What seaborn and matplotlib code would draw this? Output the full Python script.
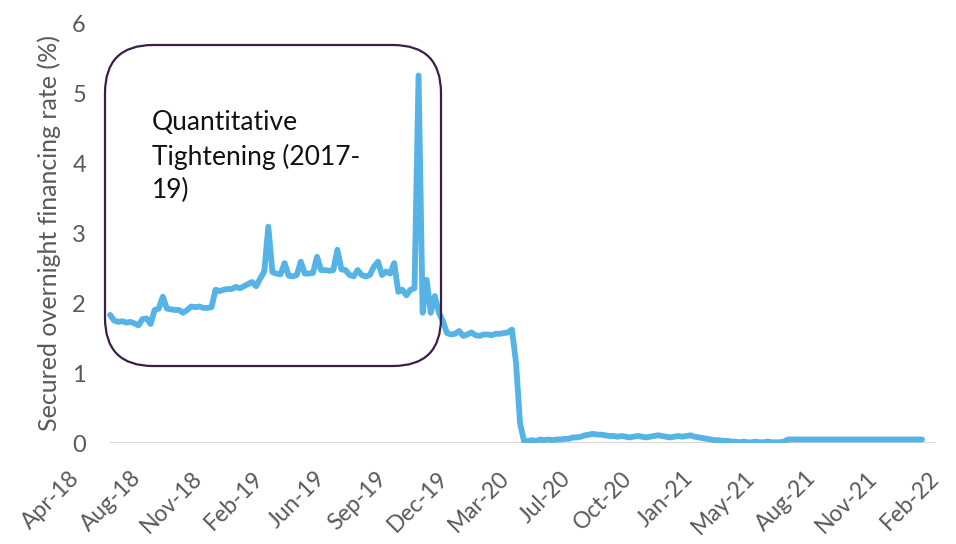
import matplotlib
matplotlib.use('Agg')
import matplotlib.pyplot as plt
import seaborn as sns
import pandas as pd
from matplotlib.patches import FancyBboxPatch
from matplotlib.transforms import IdentityTransform

# weekly SOFR readings (%), first week ending 6 Apr 2018
sofr = [
    1.83, 1.75, 1.73, 1.74, 1.72, 1.73, 1.71, 1.68, 1.77, 1.78,
    1.70, 1.90, 1.92, 2.09, 1.92, 1.91, 1.90, 1.90, 1.86, 1.90,
    1.95, 1.94, 1.95, 1.93, 1.93, 1.94, 2.19, 2.17, 2.19, 2.20,
    2.20, 2.23, 2.21, 2.24, 2.27, 2.30, 2.24, 2.35, 2.45, 3.09,
    2.44, 2.42, 2.41, 2.57, 2.39, 2.38, 2.40, 2.59, 2.42, 2.42,
    2.43, 2.66, 2.47, 2.47, 2.46, 2.47, 2.76, 2.48, 2.47, 2.40,
    2.38, 2.47, 2.40, 2.38, 2.40, 2.52, 2.59, 2.40, 2.45, 2.42,
    2.57, 2.16, 2.19, 2.11, 2.19, 2.21, 5.25, 1.86, 2.33, 1.86,
    2.10, 1.86, 1.74, 1.57, 1.55, 1.56, 1.60, 1.53, 1.55, 1.58,
    1.54, 1.53, 1.55, 1.55, 1.54, 1.56, 1.56, 1.57, 1.58, 1.62,
    1.15, 0.28, 0.02, 0.03, 0.04, 0.03, 0.05, 0.04, 0.05, 0.04,
    0.05, 0.05, 0.06, 0.06, 0.08, 0.08, 0.09, 0.11, 0.12, 0.13,
    0.12, 0.12, 0.11, 0.10, 0.10, 0.09, 0.10, 0.09, 0.08, 0.09,
    0.10, 0.09, 0.08, 0.09, 0.10, 0.11, 0.10, 0.09, 0.08, 0.09,
    0.10, 0.09, 0.10, 0.11, 0.09, 0.08, 0.07, 0.06, 0.05, 0.04,
    0.04, 0.03, 0.03, 0.02, 0.02, 0.01, 0.02, 0.01, 0.01, 0.02,
    0.01, 0.01, 0.02, 0.01, 0.01, 0.01, 0.02, 0.05, 0.05, 0.05,
    0.05, 0.05, 0.05, 0.05, 0.05, 0.05, 0.05, 0.05, 0.05, 0.05,
    0.05, 0.05, 0.05, 0.05, 0.05, 0.05, 0.05, 0.05, 0.05, 0.05,
    0.05, 0.05, 0.05, 0.05, 0.05, 0.05, 0.05, 0.05, 0.05, 0.05,
    0.05,
]
first_week = '2018-04-06'

x_labels = ['Apr-18', 'Aug-18', 'Nov-18', 'Feb-19', 'Jun-19', 'Sep-19',
            'Dec-19', 'Mar-20', 'Jul-20', 'Oct-20', 'Jan-21', 'May-21',
            'Aug-21', 'Nov-21', 'Feb-22']
y_ticks = [0, 1, 2, 3, 4, 5, 6]
note = 'Quantitative\nTightening (2017-\n19)'

dates = pd.date_range(first_week, periods=len(sofr), freq='7D')
df = pd.DataFrame({'Date': dates, 'SOFR': sofr})

sns.set_theme(style='white')
plt.rcParams['font.family'] = ['Lato', 'DejaVu Sans']

W, H = 956, 544
fig = plt.figure(figsize=(W / 100, H / 100), dpi=100)
ax = fig.add_axes([70 / W, (H - 443) / H, 875 / W, 420 / H])

sns.lineplot(data=df, x='Date', y='SOFR', ax=ax, color='#55b3e6',
             linewidth=4.2, zorder=3)

# layout in pixels: first point sits at x=110, one week = 4.06 px
day_px = 4.06 / 7
start = dates[0]
ax.set_xlim(start - pd.Timedelta(days=40 / day_px),
            start + pd.Timedelta(days=835 / day_px))
ax.set_ylim(0, 6)

tick_dates = [start + pd.Timedelta(days=(-34 + 61.4 * i) / day_px)
              for i in range(len(x_labels))]
ax.hlines(0, start, tick_dates[-1], color='#d9d9d9', lw=1.5, zorder=1)

ax.set_xticks(tick_dates)
ax.set_xticklabels(x_labels, rotation=45, ha='right', va='center',
                   rotation_mode='anchor')
ax.set_yticks(y_ticks)
ax.tick_params(axis='x', length=0, pad=23, labelsize=16.5, labelcolor='#595959')
ax.tick_params(axis='y', length=0, pad=-11.5, labelsize=17, labelcolor='#595959')
ax.set_xlabel('')
ax.set_ylabel('Secured overnight financing rate (%)', fontsize=18,
              color='#595959')
ax.yaxis.set_label_coords(-9 / 875, 0.5)
sns.despine(ax=ax, left=True, bottom=True)

box = FancyBboxPatch((105, H - 366), 336, 321,
                     boxstyle='round,pad=0,rounding_size=48',
                     transform=IdentityTransform(), fill=False,
                     edgecolor='#3b1f47', linewidth=1.6, zorder=4)
fig.add_artist(box)
fig.text(152 / W, 1 - 110 / H, note, fontsize=19, color='#111111',
         va='top', ha='left', linespacing=1.42)

fig.savefig('out.png', dpi=100)
